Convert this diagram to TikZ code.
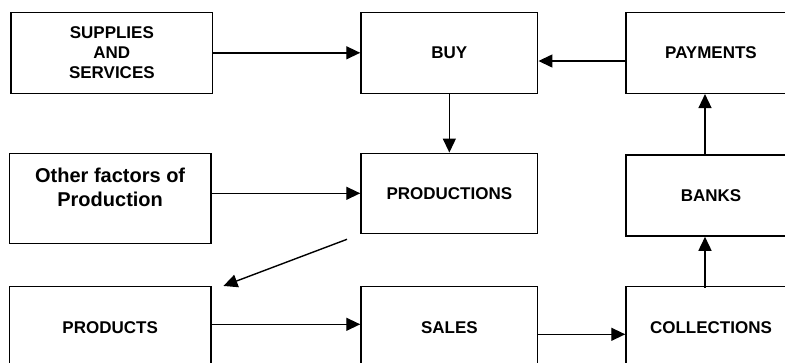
\documentclass[tikz,border=0pt]{standalone}
\usepackage{fontspec}
\setmainfont{Liberation Sans}
\usetikzlibrary{arrows.meta,calc}
\begin{document}
\begin{tikzpicture}[x=1pt,y=-1pt,
  box/.style={draw=black,line width=1.5pt,fill=white,inner sep=0pt,align=center,
    font=\fontsize{17}{20}\selectfont\bfseries},
  bigtxt/.style={align=center,inner sep=0pt,font=\fontsize{20}{23.7}\selectfont\bfseries},
  arr/.style={line width=1.4pt,-{Triangle[length=14pt,width=13pt]}}]
\useasboundingbox (0,0) rectangle (785,362);
\clip (0,0) rectangle (785,362);
% boxes
\node[box,minimum width=201.7pt,minimum height=81pt] (sup) at (111.85,52.8) {SUPPLIES\\AND\\SERVICES};
\node[box,minimum width=176.7pt,minimum height=81pt] (buy) at (449.35,52.8) {BUY};
\node[box,minimum width=170pt,minimum height=81pt] (pay) at (711,52.8) {PAYMENTS};
\node[box,minimum width=201.7pt,minimum height=90pt] (oth) at (110.15,198.3) {};
\node[bigtxt] (othtxt) at (110.15,187.5) {Other factors of\\Production};
\node[box,minimum width=176.7pt,minimum height=80pt] (prod) at (449.35,193.3) {PRODUCTIONS};
\node[box,minimum width=170pt,minimum height=81pt] (bank) at (711,195.5) {BANKS};
\node[box,minimum width=201.7pt,minimum height=82.6pt] (pdt) at (110.15,328) {PRODUCTS};
\node[box,minimum width=176.7pt,minimum height=82.6pt] (sales) at (449.35,328) {SALES};
\node[box,minimum width=170pt,minimum height=82.6pt] (coll) at (711,328) {COLLECTIONS};
% helper coordinates
\coordinate (vx) at (705,0);
\coordinate (dstart) at (347,239.3);
\coordinate (dend) at ($(pdt.north east)+(11.7,0)$);
% connectors
\draw[arr] (sup.east) -- (sup.east -| buy.west);
\draw[arr] ($(pay.west)+(0,8.2)$) -- ($(pay.west -| buy.east)+(0,8.2)$);
\draw[arr] (buy.south) -- (prod.north);
\draw[arr] (oth.east |- prod.west) -- (prod.west);
\draw[arr] (bank.north -| vx) -- (pay.south -| vx);
\draw[arr] ($(coll.north -| vx)+(0,2)$) -- (bank.south -| vx);
\draw[arr] (dstart) -- (dend);
\draw[arr] ($(pdt.east)+(0,-3.7)$) -- ($(pdt.east -| sales.west)+(0,-3.7)$);
\draw[arr] ($(sales.east)+(0,6.3)$) -- ($(sales.east -| coll.west)+(0,6.3)$);
\end{tikzpicture}
\end{document}
